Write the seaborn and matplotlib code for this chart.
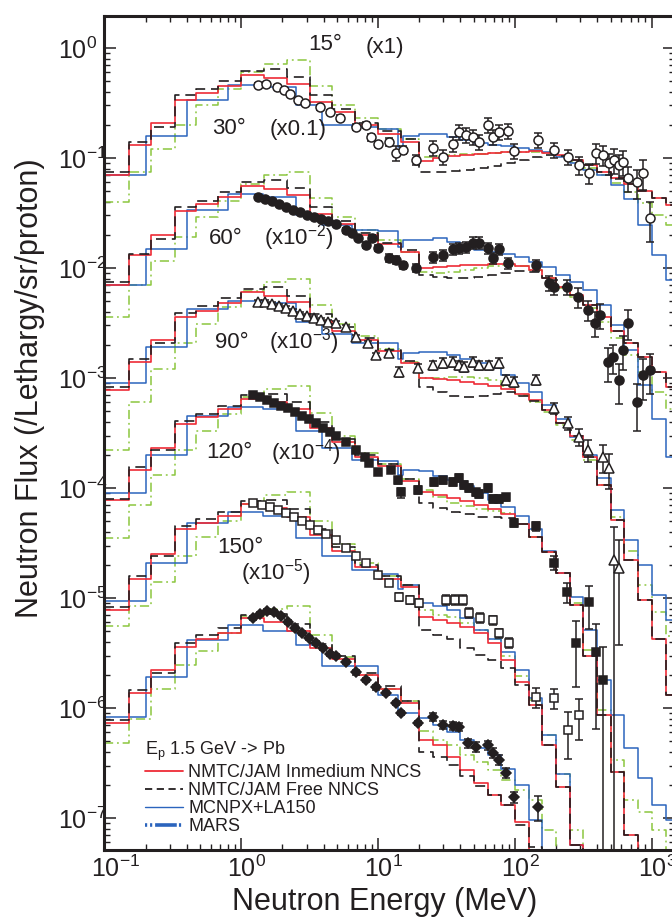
import matplotlib
matplotlib.use("Agg")
import matplotlib.pyplot as plt
import matplotlib.transforms as mtransforms
from matplotlib.lines import Line2D
from matplotlib.ticker import LogLocator, NullFormatter, FixedLocator
import numpy as np
import seaborn as sns

# ---- bin edges (MeV) ----
edges_nmtc = [0.1, 0.15, 0.22, 0.33, 0.47, 0.68, 1.0, 1.47, 2.15, 3.16, 4.64, 6.81, 10, 14.7]
edges_mcnp = [0.1, 0.2, 0.4, 0.8, 1.45, 2.5, 3.9, 6.4, 10, 13.9, 15.3]
edges_high = [20, 25.2, 31.7, 39.9, 50.2, 63.2, 79.6, 100, 126, 159, 200, 252, 317,
              399, 502, 632, 796, 1002, 1262, 1589]

angles = ["15", "30", "60", "90", "120", "150"]
factors = [1, 1e-1, 1e-2, 1e-3, 1e-4, 1e-5]
factor_text = ["(x1)", "(x0.1)", "(x10$^{-2}$)", "(x10$^{-3}$)", "(x10$^{-4}$)", "(x10$^{-5}$)"]

# ---- calculations (unscaled flux) ----
red_15 = [0.07, 0.13, 0.21, 0.34, 0.39, 0.45, 0.57, 0.53, 0.47, 0.32, 0.26, 0.2, 0.165, 0.14,
          0.094, 0.1, 0.104, 0.106, 0.109, 0.111, 0.114, 0.114, 0.116, 0.111, 0.106, 0.096,
          0.087, 0.074, 0.066, 0.058, 0.05, 0.043, 0.037]
black_15 = [0.075, 0.14, 0.19, 0.37, 0.42, 0.5, 0.62, 0.65, 0.55, 0.37, 0.28, 0.21, 0.175, 0.15,
            0.075, 0.075, 0.076, 0.078, 0.081, 0.085, 0.09, 0.096, 0.102, 0.106, 0.104, 0.096,
            0.087, 0.074, 0.066, 0.058, 0.05, 0.043, 0.037]
blue_15 = [0.07, 0.16, 0.34, 0.46, 0.44, 0.3, 0.2, 0.19, 0.185, 0.125, 0.16,
           0.165, 0.165, 0.155, 0.146, 0.137, 0.131, 0.128, 0.123, 0.118, 0.114, 0.102, 0.09,
           0.078, 0.07, 0.057, 0.042, 0.0245, 0.0132, 0.0078]
green_15 = [0.04, 0.075, 0.12, 0.2, 0.3, 0.42, 0.6, 0.72, 0.78, 0.45, 0.3, 0.23, 0.185, 0.15,
            0.102, 0.104, 0.106, 0.109, 0.109, 0.111, 0.114, 0.114, 0.114, 0.111, 0.104, 0.092,
            0.081, 0.07, 0.059, 0.049, 0.039, 0.0305, 0.0245]

red_30 = [0.07, 0.13, 0.2, 0.33, 0.38, 0.44, 0.56, 0.52, 0.46, 0.31, 0.25, 0.2, 0.165, 0.14,
          0.1, 0.102, 0.104, 0.106, 0.106, 0.109, 0.109, 0.104, 0.096, 0.081, 0.067, 0.057,
          0.046, 0.036, 0.027, 0.021, 0.0155, 0.0113, 0.0083]
black_30 = [0.075, 0.135, 0.185, 0.36, 0.41, 0.49, 0.61, 0.63, 0.53, 0.36, 0.27, 0.21, 0.17, 0.145,
            0.087, 0.083, 0.081, 0.081, 0.083, 0.087, 0.09, 0.094, 0.092, 0.081, 0.067, 0.057,
            0.046, 0.036, 0.027, 0.021, 0.0155, 0.0113, 0.0083]
blue_30 = [0.07, 0.15, 0.34, 0.47, 0.44, 0.3, 0.245, 0.22, 0.215, 0.155, 0.18,
           0.18, 0.187, 0.172, 0.155, 0.146, 0.14, 0.134, 0.126, 0.113, 0.102, 0.087, 0.074,
           0.063, 0.046, 0.03, 0.018, 0.0086, 0.0042, 0.0019]
green_30 = [0.036, 0.07, 0.115, 0.19, 0.29, 0.41, 0.58, 0.7, 0.75, 0.43, 0.29, 0.22, 0.18, 0.14,
            0.092, 0.09, 0.092, 0.096, 0.1, 0.104, 0.106, 0.104, 0.096, 0.081, 0.066, 0.055,
            0.043, 0.032, 0.023, 0.0163, 0.0113, 0.0075, 0.0052]

red_60 = [0.078, 0.14, 0.22, 0.36, 0.41, 0.48, 0.6, 0.56, 0.49, 0.33, 0.27, 0.22, 0.175, 0.137,
          0.1, 0.098, 0.096, 0.092, 0.088, 0.085, 0.079, 0.072, 0.063, 0.051, 0.039, 0.03,
          0.019, 0.0107, 0.0051, 0.0022, 0.00096, 0.00042, 0.00013]
black_60 = [0.082, 0.15, 0.21, 0.39, 0.45, 0.53, 0.65, 0.67, 0.56, 0.38, 0.29, 0.23, 0.18, 0.142,
            0.083, 0.074, 0.068, 0.067, 0.068, 0.072, 0.074, 0.068, 0.062, 0.051, 0.039, 0.03,
            0.019, 0.0107, 0.0051, 0.0022, 0.00096, 0.00042, 0.00013]
blue_60 = [0.09, 0.19, 0.42, 0.5, 0.48, 0.32, 0.25, 0.21, 0.21, 0.15, 0.17,
           0.172, 0.172, 0.162, 0.149, 0.137, 0.123, 0.106, 0.09, 0.074, 0.057, 0.042, 0.029,
           0.02, 0.0123, 0.0063, 0.0034, 0.002, 0.00106, 0.00063]
green_60 = [0.022, 0.06, 0.12, 0.21, 0.31, 0.44, 0.62, 0.75, 0.8, 0.46, 0.31, 0.24, 0.185, 0.14,
            0.1, 0.1, 0.102, 0.102, 0.1, 0.096, 0.085, 0.07, 0.06, 0.049, 0.037, 0.0273,
            0.018, 0.0107, 0.0055, 0.0027, 0.0013, 0.00075, 0.00045]

red_90 = [0.077, 0.145, 0.23, 0.38, 0.44, 0.52, 0.65, 0.6, 0.52, 0.35, 0.26, 0.19, 0.16, 0.115,
          0.092, 0.087, 0.081, 0.076, 0.07, 0.064, 0.058, 0.047, 0.036, 0.026, 0.017, 0.0086,
          0.003, 0.00086, 0.00026, 7e-05, 1e-06, 1e-06, 1e-06]
black_90 = [0.08, 0.155, 0.22, 0.41, 0.47, 0.56, 0.7, 0.72, 0.6, 0.4, 0.28, 0.2, 0.165, 0.12,
            0.073, 0.066, 0.06, 0.058, 0.055, 0.054, 0.053, 0.047, 0.036, 0.026, 0.017, 0.0086,
            0.003, 0.00086, 0.00026, 7e-05, 1e-06, 1e-06, 1e-06]
blue_90 = [0.09, 0.2, 0.45, 0.55, 0.52, 0.33, 0.23, 0.18, 0.175, 0.13, 0.145,
           0.143, 0.128, 0.118, 0.104, 0.09, 0.078, 0.067, 0.056, 0.042, 0.027, 0.017, 0.0102,
           0.0051, 0.0018, 0.00086, 0.00043, 0.00023, 0.000131, 9.6e-05]
green_90 = [0.035, 0.07, 0.13, 0.22, 0.33, 0.47, 0.67, 0.8, 0.85, 0.48, 0.3, 0.21, 0.165, 0.12,
            0.096, 0.083, 0.073, 0.068, 0.064, 0.062, 0.059, 0.047, 0.036, 0.026, 0.017, 0.009,
            0.0034, 0.00096, 0.00034, 0.000146, 0.000113, 7.8e-05, 4.6e-05]

red_120 = [0.078, 0.15, 0.25, 0.42, 0.48, 0.56, 0.72, 0.66, 0.55, 0.37, 0.27, 0.19, 0.15, 0.126,
           0.067, 0.063, 0.059, 0.055, 0.048, 0.039, 0.0273, 0.0173, 0.0107, 0.0046, 0.0019,
           0.00057, 1e-06, 1e-06, 1e-06, 1e-06, 1e-06, 1e-06, 1e-06]
black_120 = [0.083, 0.16, 0.24, 0.45, 0.52, 0.6, 0.76, 0.78, 0.64, 0.42, 0.29, 0.2, 0.16, 0.13,
             0.051, 0.046, 0.042, 0.035, 0.0305, 0.0273, 0.023, 0.0163, 0.0107, 0.0046, 0.0019,
             0.00057, 1e-06, 1e-06, 1e-06, 1e-06, 1e-06, 1e-06, 1e-06]
blue_120 = [0.093, 0.21, 0.48, 0.6, 0.56, 0.35, 0.24, 0.18, 0.165, 0.12, 0.13,
            0.09, 0.085, 0.078, 0.066, 0.051, 0.042, 0.032, 0.022, 0.0123, 0.0057, 0.0025,
            0.00057, 1e-06, 1e-06, 1e-06, 1e-06, 1e-06, 1e-06, 1e-06]
green_120 = [0.056, 0.085, 0.14, 0.24, 0.36, 0.5, 0.72, 0.86, 0.92, 0.5, 0.31, 0.21, 0.16, 0.13,
             0.078, 0.07, 0.067, 0.059, 0.051, 0.042, 0.03, 0.0195, 0.0118, 0.0057, 0.0025,
             0.00078, 1e-06, 1e-06, 1e-06, 1e-06, 1e-06, 1e-06, 1e-06]

red_150 = [0.073, 0.137, 0.22, 0.36, 0.42, 0.48, 0.66, 0.6, 0.5, 0.35, 0.28, 0.2, 0.15, 0.11,
           0.051, 0.046, 0.036, 0.0273, 0.021, 0.0163, 0.0132, 0.0092, 1e-06, 1e-06, 1e-06,
           1e-06, 1e-06, 1e-06, 1e-06, 1e-06, 1e-06, 1e-06, 1e-06]
black_150 = [0.078, 0.145, 0.21, 0.39, 0.46, 0.53, 0.7, 0.72, 0.58, 0.38, 0.3, 0.21, 0.16, 0.115,
             0.04, 0.036, 0.0305, 0.024, 0.0195, 0.0163, 0.013, 0.0086, 0.0054, 1e-06, 1e-06,
             1e-06, 1e-06, 1e-06, 1e-06, 1e-06, 1e-06, 1e-06, 1e-06]
blue_150 = [0.082, 0.19, 0.415, 0.57, 0.5, 0.37, 0.24, 0.24, 0.13, 0.095, 0.09,
            0.081, 0.07, 0.06, 0.051, 0.043, 0.037, 0.028, 0.02, 0.0096, 1e-06, 1e-06, 1e-06,
            1e-06, 1e-06, 1e-06, 1e-06, 1e-06, 1e-06, 1e-06]
green_150 = [0.048, 0.08, 0.15, 0.245, 0.33, 0.48, 0.68, 0.8, 0.85, 0.46, 0.29, 0.2, 0.15, 0.115,
             0.062, 0.051, 0.046, 0.037, 0.032, 0.0273, 0.022, 0.018, 0.0146, 0.0078, 1e-06,
             1e-06, 1e-06, 1e-06, 1e-06, 1e-06, 1e-06, 1e-06, 1e-06]

# ---- measured points (energy MeV, unscaled flux, relative error) ----
e_15 = [1.32, 1.52, 1.82, 2.05, 2.27, 2.6, 2.92, 3.76, 4.45, 5.26, 6.9, 8.15, 8.87, 9.97, 12.0,
        13.5, 15.2, 18.9, 25.2, 29.8, 35.2, 39.0, 43.9, 49.3, 54.6, 63.5, 69.1, 76.5, 89.0, 98.5,
        147.5, 193, 244, 294, 348, 391, 440, 487, 530, 576, 616, 671, 781, 863, 972]
f_15 = [0.46, 0.47, 0.44, 0.415, 0.38, 0.337, 0.316, 0.29, 0.262, 0.231, 0.191, 0.2, 0.155, 0.134,
        0.14, 0.111, 0.118, 0.096, 0.123, 0.102, 0.134, 0.172, 0.162, 0.155, 0.14, 0.2, 0.155,
        0.172, 0.176, 0.116, 0.146, 0.118, 0.102, 0.086, 0.073, 0.111, 0.106, 0.09, 0.096, 0.086,
        0.092, 0.066, 0.06, 0.073, 0.0285]
r_15 = [0.04, 0.04, 0.04, 0.04, 0.04, 0.05, 0.05, 0.05, 0.05, 0.06, 0.06, 0.06, 0.07, 0.07, 0.08,
        0.15, 0.08, 0.1, 0.15, 0.15, 0.15, 0.15, 0.15, 0.15, 0.15, 0.15, 0.15, 0.15, 0.15, 0.15,
        0.15, 0.15, 0.15, 0.18, 0.2, 0.2, 0.2, 0.22, 0.25, 0.25, 0.25, 0.25, 0.3, 0.3, 0.4]

e_30 = [1.325, 1.49, 1.676, 1.887, 2.122, 2.388, 2.686, 3.022, 3.4, 3.826, 4.305, 4.925, 5.826,
        6.443, 7.13, 8.155, 9.0, 9.98, 12.0, 13.52, 15.21, 18.92, 25.2, 29.8, 35.3, 39.0, 43.9,
        49.4, 54.65, 63.6, 69.2, 76.5, 89.0, 142.6, 177.5, 193, 240.4, 289, 342, 385, 419, 479,
        521, 576.8, 617, 671, 781, 864, 972]
f_30 = [0.442, 0.424, 0.406, 0.382, 0.359, 0.337, 0.323, 0.303, 0.291, 0.279, 0.267, 0.251, 0.221,
        0.208, 0.1875, 0.162, 0.1875, 0.152, 0.123, 0.118, 0.106, 0.1, 0.126, 0.131, 0.149, 0.152,
        0.155, 0.169, 0.169, 0.152, 0.123, 0.149, 0.111, 0.106, 0.073, 0.067, 0.067, 0.0545,
        0.0415, 0.0316, 0.0374, 0.014, 0.0155, 0.0096, 0.018, 0.0316, 0.00605, 0.0106, 0.0118]
r_30 = [0.04, 0.04, 0.04, 0.04, 0.04, 0.04, 0.04, 0.04, 0.04, 0.04, 0.04, 0.05, 0.05, 0.05, 0.05,
        0.06, 0.06, 0.06, 0.08, 0.08, 0.08, 0.08, 0.12, 0.12, 0.12, 0.12, 0.12, 0.12, 0.12, 0.12,
        0.12, 0.12, 0.12, 0.12, 0.15, 0.15, 0.15, 0.2, 0.2, 0.25, 0.25, 0.35, 0.3, 0.4, 0.35, 0.3,
        0.45, 0.4, 0.4]

e_60 = [1.325, 1.49, 1.676, 1.887, 2.122, 2.388, 2.686, 3.022, 3.4, 3.826, 4.305, 4.925, 5.826,
        6.893, 8.436, 9.65, 12.0, 14.22, 19.57, 25.2, 29.8, 35.3, 39.0, 42.5, 49.4, 54.65, 64.5,
        76.5, 86.1, 98.5, 142.6, 193, 244.5, 294, 342, 440.6, 487.5, 530, 576.8]
f_60 = [0.49, 0.49, 0.471, 0.452, 0.433, 0.406, 0.382, 0.366, 0.351, 0.337, 0.323, 0.316, 0.291,
        0.236, 0.208, 0.162, 0.169, 0.1135, 0.123, 0.131, 0.137, 0.14, 0.131, 0.126, 0.14, 0.131,
        0.131, 0.137, 0.096, 0.092, 0.096, 0.0534, 0.039, 0.0291, 0.0222, 0.0191, 0.0152, 0.0022,
        0.00187]
r_60 = [0.04, 0.04, 0.04, 0.04, 0.04, 0.04, 0.04, 0.04, 0.04, 0.04, 0.04, 0.05, 0.05, 0.05, 0.05,
        0.05, 0.07, 0.1, 0.08, 0.1, 0.1, 0.1, 0.1, 0.1, 0.1, 0.1, 0.1, 0.1, 0.1, 0.1, 0.1, 0.12,
        0.14, 0.18, 0.22, 0.28, 0.35, 1.0, 0.8]

e_90 = [1.218, 1.37, 1.54, 1.734, 1.952, 2.195, 2.469, 2.778, 3.126, 3.516, 3.958, 4.453, 4.925,
        5.826, 6.893, 8.02, 8.58, 9.98, 12.42, 13.98, 14.7, 19.57, 25.63, 29.8, 35.3, 39.0, 42.5,
        46.2, 51.9, 54.65, 63.6, 69.2, 76.5, 86.1, 98.5, 142.6, 193, 240.4, 279.7, 348, 391.6,
        440.6]
f_90 = [0.70, 0.67, 0.63, 0.59, 0.555, 0.53, 0.49, 0.45, 0.42, 0.39, 0.35, 0.32, 0.30, 0.26, 0.22,
        0.19, 0.17, 0.14, 0.145, 0.117, 0.091, 0.096, 0.113, 0.117, 0.113, 0.123, 0.107, 0.1,
        0.091, 0.089, 0.1, 0.08, 0.08, 0.082, 0.048, 0.045, 0.021, 0.0113, 0.0039, 0.0091, 0.0032,
        0.0018]
r_90 = [0.04, 0.04, 0.04, 0.04, 0.04, 0.04, 0.04, 0.04, 0.04, 0.04, 0.04, 0.04, 0.05, 0.05, 0.05,
        0.05, 0.05, 0.05, 0.06, 0.08, 0.1, 0.08, 0.08, 0.08, 0.08, 0.08, 0.08, 0.08, 0.08, 0.08,
        0.08, 0.08, 0.08, 0.08, 0.08, 0.1, 0.15, 0.2, 0.6, 0.42, 0.8, 1.0]

e_120 = [1.218, 1.416, 1.62, 1.855, 2.122, 2.428, 2.778, 3.179, 3.637, 4.162, 4.925, 5.826, 6.893,
         8.155, 9.98, 12.0, 14.22, 17.11, 19.9, 31.4, 36.5, 41.75, 46.2, 55.6, 69.2, 76.5, 90.6,
         142.6, 193, 244.5, 294]
f_120 = [0.73, 0.70, 0.672, 0.631, 0.593, 0.545, 0.501, 0.461, 0.415, 0.382, 0.337, 0.285, 0.241,
         0.208, 0.162, 0.137, 0.102, 0.096, 0.09, 0.096, 0.096, 0.096, 0.073, 0.066, 0.063, 0.048,
         0.039, 0.0126, 0.0123, 0.0063, 0.0086]
r_120 = [0.04, 0.04, 0.04, 0.04, 0.04, 0.04, 0.04, 0.04, 0.04, 0.04, 0.05, 0.05, 0.05, 0.05, 0.05,
         0.06, 0.08, 0.08, 0.08, 0.1, 0.1, 0.1, 0.1, 0.1, 0.1, 0.1, 0.1, 0.2, 0.2, 0.45, 0.4]

e_150 = [1.218, 1.37, 1.54, 1.734, 1.952, 2.195, 2.469, 2.778, 3.126, 3.516, 3.958, 4.453, 4.925,
         5.826, 6.893, 8.155, 9.65, 11.42, 13.52, 14.7, 19.57, 25.2, 29.8, 35.3, 39.0, 45.4, 51.9,
         63.6, 69.2, 76.5, 86.1, 98.5, 147.6]
f_150 = [0.658, 0.716, 0.762, 0.746, 0.686, 0.605, 0.533, 0.481, 0.433, 0.39, 0.351, 0.31, 0.297,
         0.262, 0.212, 0.18, 0.155, 0.137, 0.111, 0.09, 0.073, 0.083, 0.07, 0.0686, 0.067, 0.048,
         0.0442, 0.046, 0.039, 0.0337, 0.0257, 0.0155, 0.0126]
r_150 = [0.04, 0.04, 0.04, 0.04, 0.04, 0.04, 0.04, 0.04, 0.04, 0.04, 0.04, 0.04, 0.05, 0.05, 0.05,
         0.05, 0.05, 0.05, 0.05, 0.05, 0.05, 0.08, 0.08, 0.08, 0.08, 0.1, 0.1, 0.1, 0.1, 0.1, 0.1,
         0.12, 0.25]

x_ticks = [0.1, 1, 10, 100, 1000]
y_ticks = [1e-7, 1e-6, 1e-5, 1e-4, 1e-3, 1e-2, 1e-1, 1]

RED = "#ee2b36"
BLACK = "#231f20"
BLUE = "#2b64bd"
GREEN = "#8cc63f"

sns.set_theme(style="ticks")
plt.rcParams["font.family"] = ["Liberation Sans", "DejaVu Sans"]
plt.rcParams["mathtext.fontset"] = "custom"
plt.rcParams["mathtext.rm"] = "Liberation Sans"
plt.rcParams["mathtext.it"] = "Liberation Sans:italic"
plt.rcParams["mathtext.bf"] = "Liberation Sans:bold"
plt.rcParams["axes.unicode_minus"] = False
plt.rcParams["text.color"] = BLACK

fig = plt.figure(figsize=(6.72, 9.18), dpi=100)
ax = fig.add_axes([0.1555, 0.0741, 0.849, 0.9085])
ax.set_xscale("log")
ax.set_yscale("log")

calc = {
    "15": (red_15, black_15, blue_15, green_15),
    "30": (red_30, black_30, blue_30, green_30),
    "60": (red_60, black_60, blue_60, green_60),
    "90": (red_90, black_90, blue_90, green_90),
    "120": (red_120, black_120, blue_120, green_120),
    "150": (red_150, black_150, blue_150, green_150),
}
meas = {
    "15": (e_15, f_15, r_15, "o", False, 6.5),
    "30": (e_30, f_30, r_30, "o", True, 6.5),
    "60": (e_60, f_60, r_60, "^", False, 7),
    "90": (e_90, f_90, r_90, "s", True, 6),
    "120": (e_120, f_120, r_120, "s", False, 6),
    "150": (e_150, f_150, r_150, "D", True, 5.5),
}


def hist(edges, vals, fac, color, lw, ls):
    y = [v * fac for v in vals]
    y.append(y[-1])
    sns.lineplot(x=edges, y=y, drawstyle="steps-post", estimator=None, sort=False,
                 color=color, linewidth=lw, linestyle=ls, legend=False, ax=ax, zorder=2)


for ang, fac in zip(angles, factors):
    red, black, blue, green = calc[ang]
    hist(edges_nmtc + edges_high, green, fac, GREEN, 1.1, (0, (6, 2.5, 1.2, 2.5)))
    hist(edges_mcnp + edges_high, blue, fac, BLUE, 1.1, "-")
    hist(edges_nmtc + edges_high, red, fac, RED, 1.2, "-")
    hist(edges_nmtc + edges_high, black, fac, BLACK, 1.2, (0, (6, 3.5)))

    e, f, r, mk, filled, ms = meas[ang]
    y = np.array(f) * fac
    rel = np.array(r)
    lo = y * np.minimum(rel, 0.9999)
    hi = y * rel
    ax.errorbar(e, y, yerr=[lo, hi], fmt=mk, ms=ms, mfc=BLACK if filled else "white",
                mec=BLACK, mew=1.1, ecolor=BLACK, elinewidth=1.1, capsize=3, capthick=1.1,
                zorder=5)

# angle / factor labels
label_pos = [((4.09, 1.065), (11.2, 1.02)),
             ((0.813, 0.187), (2.6, 0.18)),
             ((0.773, 0.0184), (2.64, 0.0191)),
             ((0.855, 0.00208), (2.87, 0.00213)),
             ((0.813, 2.12e-4), (2.97, 2.08e-4)),
             ((0.978, 2.85e-5), (1.794, 1.69e-5))]
for ang, ftxt, (p1, p2) in zip(angles, factor_text, label_pos):
    ax.text(p1[0], p1[1], ang + "°", fontsize=16, ha="center", va="center", zorder=6)
    ax.text(p2[0], p2[1], ftxt, fontsize=16, ha="center", va="center", zorder=6)

ax.set_xlim(0.1, 1480)
ax.set_ylim(5.12e-8, 1.954)

ax.xaxis.set_major_locator(FixedLocator(x_ticks))
ax.yaxis.set_major_locator(FixedLocator(y_ticks))
ax.xaxis.set_minor_locator(LogLocator(base=10, subs=np.arange(2, 10), numticks=50))
ax.yaxis.set_minor_locator(LogLocator(base=10, subs=np.arange(2, 10), numticks=50))
ax.xaxis.set_minor_formatter(NullFormatter())
ax.yaxis.set_minor_formatter(NullFormatter())

for side in ["left", "bottom", "top", "right"]:
    ax.spines[side].set_linewidth(2.2)
    ax.spines[side].set_color(BLACK)
ax.tick_params(which="both", direction="in", top=True, right=True, color=BLACK,
               labelcolor=BLACK, labelsize=18)
ax.tick_params(which="major", length=8.6, width=1.1)
ax.tick_params(which="minor", length=4.5, width=1.0)
ax.tick_params(axis="y", which="major", pad=33.5)
ax.tick_params(axis="x", which="major", pad=4)

ax.set_xlabel("Neutron Energy (MeV)", fontsize=22, color=BLACK)
ax.set_ylabel("Neutron Flux (/Lethargy/sr/proton)", fontsize=22, color=BLACK)
ax.xaxis.set_label_coords(0.491, -0.044)
ax.yaxis.set_label_coords(-0.104, 0.554)

handles = [Line2D([], [], color=RED, lw=1.3),
           Line2D([], [], color=BLACK, lw=1.3, ls=(0, (4, 2.5))),
           Line2D([], [], color=BLUE, lw=1.0),
           Line2D([], [], color=BLUE, lw=2.6, ls=(0, (0.6, 0.8, 0.6, 0.8, 6, 0.6)))]
labels = ["NMTC/JAM Inmedium NNCS", "NMTC/JAM Free NNCS", "MCNPX+LA150", "MARS"]
ax.legend(handles, labels, title="E$_{\\rm p}$ 1.5 GeV -> Pb", loc="lower left",
          bbox_to_anchor=(0.071, 0.018), frameon=False, fontsize=13, title_fontsize=13,
          handlelength=2.1, handletextpad=0.3, labelspacing=0.05, borderpad=0,
          borderaxespad=0, alignment="left")

# tick label placement: y labels left aligned, x labels with "10" centred on the tick
for lab in ax.get_yticklabels():
    lab.set_horizontalalignment("left")
shift = mtransforms.ScaledTranslation(-13.9 / 100, 0, fig.dpi_scale_trans)
for lab in ax.get_xticklabels():
    lab.set_horizontalalignment("left")
    lab.set_transform(lab.get_transform() + shift)

fig.savefig("out.png", dpi=100)
